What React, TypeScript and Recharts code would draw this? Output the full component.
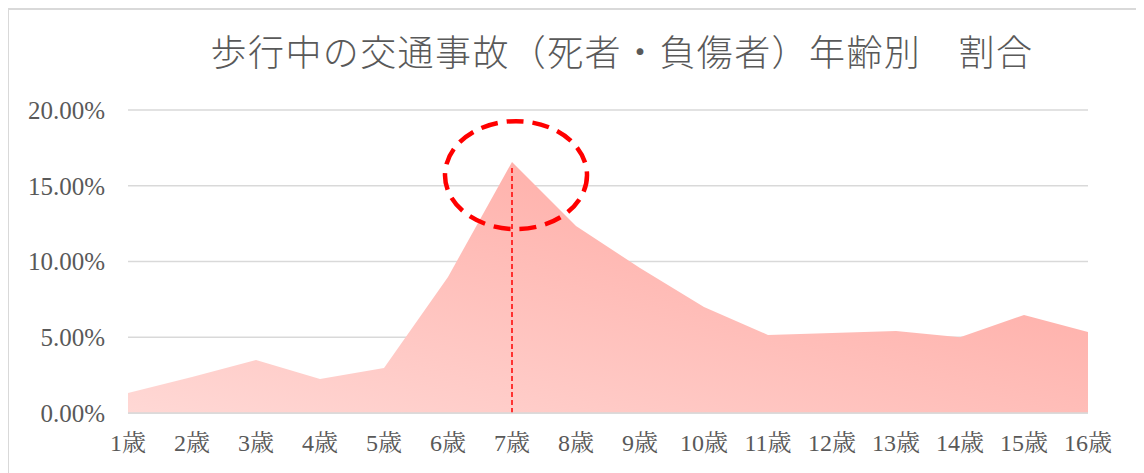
import { AreaChart, Area, XAxis, YAxis, CartesianGrid, ReferenceLine, ReferenceDot } from "recharts"

// 年齢別の割合 (%)
const ages = ["1歳", "2歳", "3歳", "4歳", "5歳", "6歳", "7歳", "8歳", "9歳", "10歳", "11歳", "12歳", "13歳", "14歳", "15歳", "16歳"]
const shares = [1.32, 2.38, 3.5, 2.24, 2.97, 8.98, 16.57, 12.34, 9.57, 7.0, 5.15, 5.28, 5.41, 5.0, 6.47, 5.35]
const yTicks = [0, 5, 10, 15, 20]

// 注目する年齢とマーク位置
const peakAge = "7歳"
const peakShare = 16.57
const circleCenterShare = 15.7

const data = ages.map((age, i) => ({ age, share: shares[i] }))

const labelColor = "#595959"
const gridColor = "#d9d9d9"
const serif = "'Liberation Serif', 'Noto Serif CJK JP', 'Noto Sans CJK JP', serif"

function DashedEllipse(props: { cx?: number; cy?: number }) {
  const { cx = 0, cy = 0 } = props
  return (
    <ellipse
      cx={cx + 4}
      cy={cy}
      rx={71}
      ry={54}
      fill="none"
      stroke="#ff0000"
      strokeWidth={4.5}
      strokeDasharray="17 9"
    />
  )
}

export default function App() {
  return (
    <div
      style={{
        position: "relative",
        width: 1136,
        height: 470,
        marginLeft: -1,
        border: `2px solid ${gridColor}`,
        boxSizing: "border-box",
        background: "#fff",
      }}
    >
      <div
        style={{
          position: "absolute",
          left: 613,
          top: 22,
          transform: "translateX(-50%)",
          whiteSpace: "nowrap",
          fontFamily: "'Noto Sans CJK JP', sans-serif",
          fontWeight: 300,
          fontSize: 36,
          letterSpacing: 1.4,
          lineHeight: 1,
          color: labelColor,
        }}
      >
        歩行中の交通事故（死者・負傷者）年齢別　割合
      </div>
      <div style={{ position: "absolute", left: 0, top: 0 }}>
        <AreaChart width={1130} height={460} data={data} margin={{ top: 100, right: 51, bottom: 17, left: 0 }}>
          <defs>
            <linearGradient id="shareFill" x1="0" y1="1" x2="1" y2="0">
              <stop offset="0%" stopColor="#ffd8d5" />
              <stop offset="100%" stopColor="#ffa29b" />
            </linearGradient>
          </defs>
          <CartesianGrid stroke={gridColor} strokeWidth={1.5} vertical={false} />
          <XAxis
            dataKey="age"
            height={40}
            tickLine={false}
            axisLine={{ stroke: gridColor, strokeWidth: 1.5 }}
            tickMargin={15}
            interval={0}
            tick={{ fontSize: 24, fill: labelColor, fontFamily: serif }}
          />
          <YAxis
            width={119}
            domain={[0, 20]}
            ticks={yTicks}
            tickLine={false}
            axisLine={false}
            tickMargin={17}
            tickFormatter={(v: number) => `${v.toFixed(2)}%`}
            tick={{ fontSize: 25, fill: labelColor, fontFamily: serif }}
          />
          <Area
            type="linear"
            dataKey="share"
            stroke="none"
            fill="url(#shareFill)"
            fillOpacity={1}
            dot={false}
            activeDot={false}
            isAnimationActive={false}
          />
          <ReferenceLine
            segment={[{ x: peakAge, y: 0 }, { x: peakAge, y: peakShare - 0.2 }]}
            stroke="#ff0000"
            strokeWidth={1.5}
            strokeDasharray="5 3"
          />
          <ReferenceDot x={peakAge} y={circleCenterShare} shape={<DashedEllipse />} />
        </AreaChart>
      </div>
    </div>
  )
}
